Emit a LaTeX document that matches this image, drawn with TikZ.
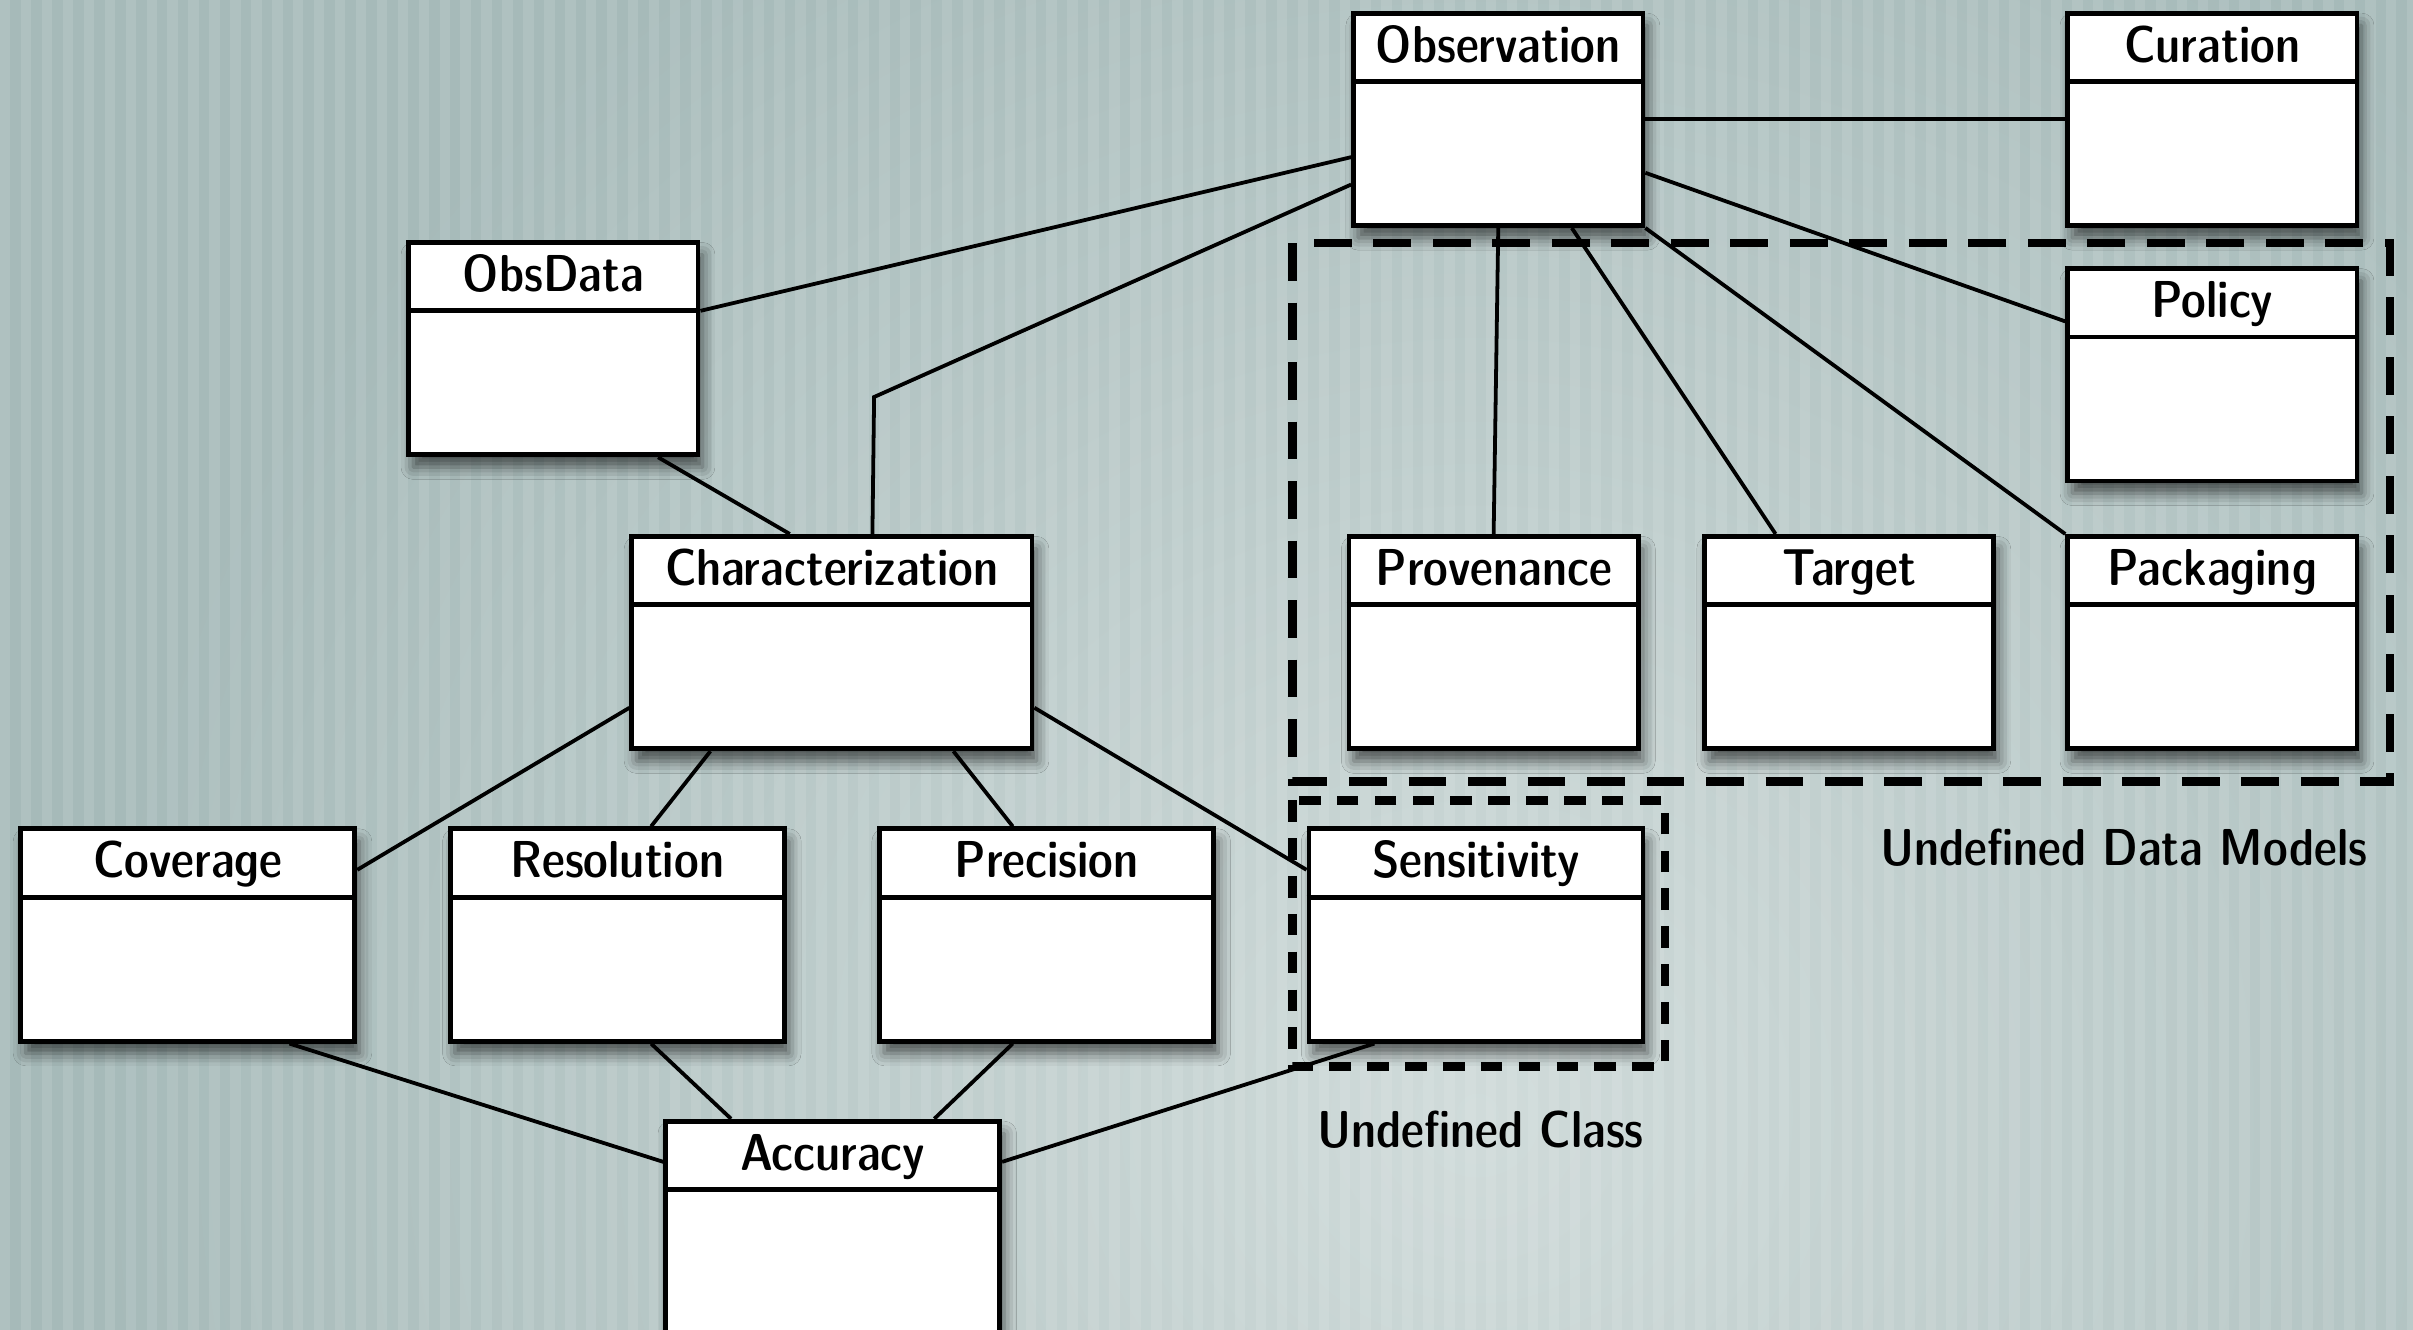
\documentclass[tikz,border=0pt]{standalone}
\usetikzlibrary{calc,shadows.blur}

\definecolor{bgdark}{HTML}{A6BAB9}
\definecolor{bglight}{HTML}{D0DBDA}

\tikzset{
  classbox/.style={draw=black, line width=0.9pt, fill=white, inner sep=0pt,
    blur shadow={shadow xshift=0.03cm, shadow yshift=-0.08cm, shadow blur radius=0.08cm, shadow opacity=60}},
  classline/.style={line width=0.9pt},
  classname/.style={font=\fontsize{9.6}{11}\fontseries{sbc}\sffamily, inner sep=0pt, anchor=base},
  assoc/.style={line width=0.7pt},
  groupbox/.style={line width=1.6pt},
  grouplabel/.style={font=\fontsize{9.6}{11}\fontseries{sbc}\sffamily, inner sep=0pt}
}

% class box: [height] name, x, top, width, title
\newcommand{\umlclass}[6][1.38]{%
  \node[classbox, minimum width=#5cm, minimum height=#1cm, anchor=north west] (#2) at (#3,#4) {};
  \draw[classline] ($(#2.north west)+(0,-0.46)$) -- ($(#2.north east)+(0,-0.46)$);
  \node[classname] (#2-name) at ($(#2.north)+(0,-0.335)$) {#6};
}

\begin{document}
\begin{tikzpicture}
 \useasboundingbox (0,0) rectangle (15.68,8.64);
 \clip (0,0) rectangle (15.68,8.64);
 % background
 \fill[bgdark] (0,0) rectangle (15.68,8.64);
 \shade[inner color=bglight, outer color=bgdark] (9.6,1.4) circle (9);
 \foreach \x in {0,0.136,...,15.7}
   \fill[white, opacity=0.1] (\x,0) rectangle ++(0.068,8.64);

 % classes
 \umlclass{obs}{8.78}{8.57}{1.88}{Observation}
 \umlclass{cur}{13.42}{8.57}{1.88}{Curation}
 \umlclass{obsd}{2.64}{7.08}{1.88}{ObsData}
 \umlclass{pol}{13.42}{6.91}{1.88}{Policy}
 \umlclass{char}{4.09}{5.17}{2.60}{Characterization}
 \umlclass{prov}{8.75}{5.17}{1.88}{Provenance}
 \umlclass{targ}{11.06}{5.17}{1.88}{Target}
 \umlclass{pack}{13.42}{5.17}{1.88}{Packaging}
 \umlclass{cov}{0.12}{3.27}{2.17}{Coverage}
 \umlclass{res}{2.91}{3.27}{2.17}{Resolution}
 \umlclass{prec}{5.70}{3.27}{2.17}{Precision}
 \umlclass{sens}{8.49}{3.27}{2.17}{Sensitivity}
 \umlclass[2]{acc}{4.31}{1.37}{2.17}{Accuracy}

 % associations
 \coordinate (bend) at (5.68,6.06);
 \draw[assoc] ($(obs.north west)!0.674!(obs.south west)$) -- ($(obsd.north east)+(0,-0.46)$);
 \draw[assoc] ($(obs.north west)!0.8!(obs.south west)$) -- (bend) -- ($(char.north west)!0.6!(char.north east)$);
 \draw[assoc] ($(obsd.south west)!0.856!(obsd.south east)$) -- ($(char.north west)!0.396!(char.north east)$);
 \draw[assoc] (obs.east) -- (cur.west);
 \draw[assoc] ($(obs.north east)!0.746!(obs.south east)$) -- ($(pol.north west)!0.254!(pol.south west)$);
 \draw[assoc] (obs.south) -- (prov.north);
 \draw[assoc] ($(obs.south west)!0.75!(obs.south east)$) -- ($(targ.north west)!0.25!(targ.north east)$);
 \draw[assoc] (obs.south east) -- (pack.north west);
 \draw[assoc] ($(char.north west)!0.8!(char.south west)$) -- ($(cov.north east)!0.2!(cov.south east)$);
 \draw[assoc] ($(char.south west)!0.2!(char.south east)$) -- ($(res.north west)!0.6!(res.north east)$);
 \draw[assoc] ($(char.south west)!0.8!(char.south east)$) -- ($(prec.north west)!0.4!(prec.north east)$);
 \draw[assoc] ($(char.north east)!0.8!(char.south east)$) -- ($(sens.north west)!0.2!(sens.south west)$);
 \draw[assoc] ($(cov.south west)!0.8!(cov.south east)$) -- ($(acc.north west)+(0,-0.28)$);
 \draw[assoc] ($(res.south west)!0.6!(res.south east)$) -- ($(acc.north west)!0.2!(acc.north east)$);
 \draw[assoc] ($(prec.south west)!0.4!(prec.south east)$) -- ($(acc.north west)!0.8!(acc.north east)$);
 \draw[assoc] ($(sens.south west)!0.2!(sens.south east)$) -- ($(acc.north east)+(0,-0.28)$);

 % undefined groups
 \draw[groupbox, dash pattern=on 7pt off 4pt] (8.40,7.06) rectangle (15.53,3.56);
 \draw[groupbox, dash pattern=on 4pt off 3pt] (8.40,3.44) rectangle (10.82,1.71);
 \node[grouplabel] (dmlabel) at (13.80,3.13) {Undefined Data Models};
 \node[grouplabel] (uclabel) at (9.62,1.30) {Undefined Class};
\end{tikzpicture}
\end{document}
